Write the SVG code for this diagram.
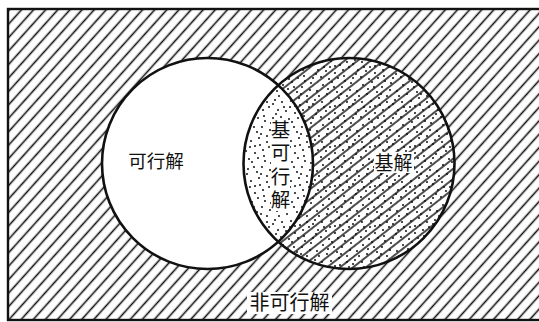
<svg xmlns="http://www.w3.org/2000/svg" width="539" height="322" viewBox="0 0 539 322">
  <style>
    .lbl { font-family: "Noto Sans CJK SC", "Noto Sans CJK JP", sans-serif; fill: #111; text-anchor: middle; }
    .edge { fill: none; stroke: #111; stroke-width: 2.6; }
    .bg { fill: #fff; }
  </style>
  <defs>
    <pattern id="hatchOut" width="9" height="10" patternUnits="userSpaceOnUse" patternTransform="rotate(42)">
      <rect width="9" height="10" fill="#fff"/>
      <line x1="4.5" y1="-1" x2="4.5" y2="11" stroke="#111" stroke-width="1.6"/>
    </pattern>
    <pattern id="hatchIn" width="8" height="10" patternUnits="userSpaceOnUse" patternTransform="rotate(52)">
      <line x1="4" y1="-1" x2="4" y2="11" stroke="#111" stroke-width="1.5"/>
    </pattern>
    <pattern id="dots" width="40" height="40" patternUnits="userSpaceOnUse">
      <g fill="#111">
        <circle cx="3" cy="5" r="1"/><circle cx="12" cy="2" r="1"/><circle cx="22" cy="7" r="1"/>
        <circle cx="31" cy="3" r="1"/><circle cx="37" cy="11" r="1"/><circle cx="7" cy="14" r="1"/>
        <circle cx="17" cy="12" r="1"/><circle cx="27" cy="16" r="1"/><circle cx="35" cy="20" r="1"/>
        <circle cx="2" cy="22" r="1"/><circle cx="11" cy="21" r="1"/><circle cx="20" cy="25" r="1"/>
        <circle cx="29" cy="27" r="1"/><circle cx="38" cy="30" r="1"/><circle cx="6" cy="31" r="1"/>
        <circle cx="15" cy="33" r="1"/><circle cx="24" cy="36" r="1"/><circle cx="33" cy="38" r="1"/>
        <circle cx="9" cy="39" r="1"/><circle cx="14" cy="7" r="1"/><circle cx="25" cy="1" r="1"/>
        <circle cx="1" cy="37" r="1"/><circle cx="19" cy="18" r="1"/><circle cx="30" cy="10" r="1"/>
        <circle cx="36" cy="34" r="1"/><circle cx="4" cy="27" r="1"/><circle cx="23" cy="30" r="1"/>
        <circle cx="10" cy="27" r="1"/><circle cx="33" cy="24" r="1"/><circle cx="18" cy="38" r="1"/>
        <circle cx="27" cy="22" r="1"/><circle cx="8" cy="9" r="1"/><circle cx="39" cy="16" r="1"/>
        <circle cx="15" cy="26" r="1"/><circle cx="21" cy="14" r="1"/>
      </g>
    </pattern>
    <clipPath id="clipRight">
      <circle cx="349" cy="163.5" r="105.5"/>
    </clipPath>
  </defs>

  <rect width="539" height="322" fill="#fff"/>

  <g id="infeasible-region">
    <rect x="8" y="9" width="540" height="311" fill="url(#hatchOut)"/>
    <rect x="8" y="9" width="540" height="311" fill="none" stroke="#111" stroke-width="2.4"/>
  </g>

  <g id="basic-solutions">
    <circle cx="349" cy="163.5" r="105.5" fill="#fff"/>
    <circle cx="349" cy="163.5" r="105.5" fill="url(#hatchIn)"/>
    <circle cx="349" cy="163.5" r="105.5" fill="url(#dots)"/>
  </g>

  <g id="feasible-solutions">
    <circle cx="207.5" cy="163.5" r="105.5" fill="#fff"/>
  </g>

  <g id="basic-feasible-solutions">
    <circle cx="207.5" cy="163.5" r="105.5" fill="url(#dots)" clip-path="url(#clipRight)"/>
  </g>

  <g id="outlines">
    <circle class="edge" cx="207.5" cy="163.5" r="105.5"/>
    <circle class="edge" cx="349" cy="163.5" r="105.5"/>
  </g>

  <g id="labels">
    <text class="lbl" x="156" y="168" font-size="18.5">可行解</text>

    <rect class="bg" x="271" y="120" width="19" height="91"/>
    <text class="lbl" x="280.5" y="119.5" font-size="19.5" writing-mode="vertical-rl" style="text-anchor: start; writing-mode: vertical-rl;" letter-spacing="4">基可行解</text>

    <rect class="bg" x="374" y="152" width="40" height="21"/>
    <text class="lbl" x="393.5" y="170" font-size="19">基解</text>

    <rect class="bg" x="247" y="292" width="85" height="22"/>
    <text class="lbl" x="289.5" y="310" font-size="20">非可行解</text>
  </g>
</svg>
